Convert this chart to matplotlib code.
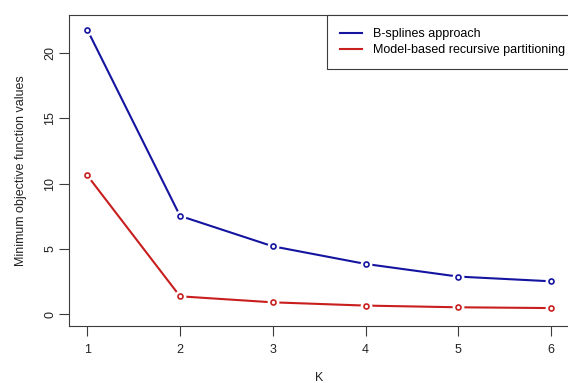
import matplotlib
matplotlib.use("Agg")
import matplotlib.pyplot as plt

plt.rcParams['font.family'] = ['Liberation Sans', 'DejaVu Sans']

k_values = [1, 2, 3, 4, 5, 6]
bsplines = [21.8, 7.54, 5.21, 3.86, 2.89, 2.53]
mob = [10.64, 1.38, 0.92, 0.67, 0.54, 0.48]
series_labels = ["B-splines approach", "Model-based recursive partitioning"]
x_ticks = [1, 2, 3, 4, 5, 6]
y_ticks = [0, 5, 10, 15, 20]

blue = "#1414a0"
red = "#c81e1e"
axis_col = "#3c3c3c"
fs = 9.0

W, H = 568, 383
fig = plt.figure(figsize=(W / 100, H / 100), dpi=100)
left, right, top, bottom = 68.7, 569.6, 15.3, 325.7
ax = fig.add_axes([left / W, 1 - bottom / H, (right - left) / W, (bottom - top) / H])

for vals, col, lab in [(bsplines, blue, series_labels[0]), (mob, red, series_labels[1])]:
    ax.plot(k_values, vals, color=col, lw=1.5, zorder=2, label=lab)
    # white halo so segments stop short of the points (type "b" look)
    ax.plot(k_values, vals, ls="none", marker="o", ms=8.5, mfc="white", mec="none", zorder=3)
    ax.plot(k_values, vals, ls="none", marker="o", ms=3.6, mfc="white", mec=col, mew=1.2, zorder=4)

ax.set_xlim(0.8, 6.2)
ax.set_ylim(-0.87, 22.9)
ax.set_xticks(x_ticks)
ax.set_yticks(y_ticks)
ax.tick_params(axis="both", length=7, width=0.8, color=axis_col, labelsize=fs, labelcolor="#222222")
ax.tick_params(axis="x", pad=6)
ax.tick_params(axis="y", pad=2)
for lbl in ax.get_yticklabels():
    lbl.set_rotation(90)
    lbl.set_va("center")
for sp in ax.spines.values():
    sp.set_color(axis_col)
    sp.set_linewidth(0.8)

ax.set_xlabel("K", fontsize=fs, color="#222222", va="center")
ax.xaxis.set_label_coords(0.5, -0.168)
ax.set_ylabel("Minimum objective function values", fontsize=fs, color="#222222", va="center")
ax.yaxis.set_label_coords(-0.095, 0.5)

leg = ax.legend(loc="upper right", bbox_to_anchor=(1.018, 1.0), borderaxespad=0,
                fancybox=False, framealpha=1, edgecolor=axis_col, fontsize=fs,
                handlelength=1.76, handletextpad=0.88, borderpad=1.04, labelspacing=0.29)
leg.get_frame().set_linewidth(0.8)
for h in leg.get_lines():
    h.set_linewidth(1.5)

fig.savefig("out.png", dpi=100)
